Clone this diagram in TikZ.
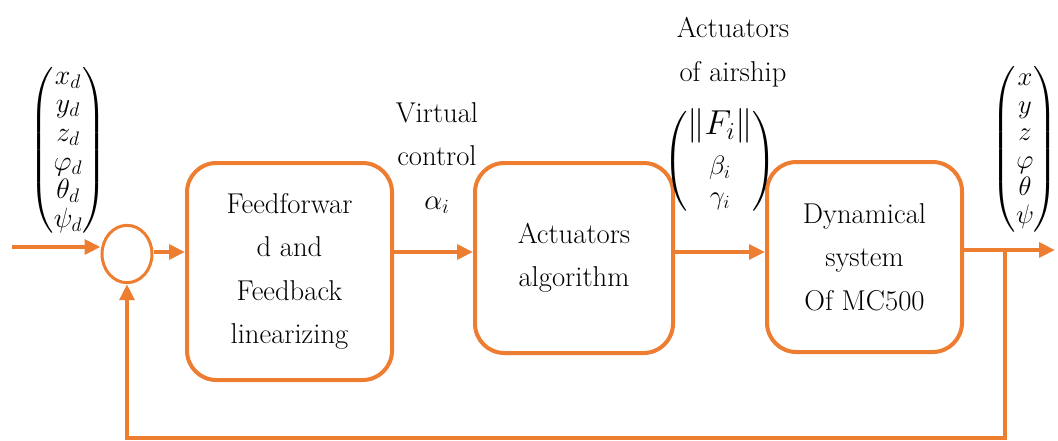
\RequirePackage{fix-cm}
\documentclass[tikz,border=0pt]{standalone}
\usepackage{amsmath}
\usetikzlibrary{arrows.meta,shapes.geometric}
\definecolor{orng}{RGB}{237,125,49}
\begin{document}
\begin{tikzpicture}[x=0.75pt,y=-0.75pt,
  blk/.style={draw=orng,line width=3pt,rounded corners=22pt,align=center,
    font=\fontsize{21.5}{32.5}\selectfont,inner sep=0pt},
  lbl/.style={align=center,font=\fontsize{21.5}{32.5}\selectfont,inner sep=0pt},
  vec/.style={font=\fontsize{21}{25}\selectfont,inner sep=0pt},
  wire/.style={draw=orng,line width=3pt},
  arr/.style={wire,-{Triangle[length=12pt,width=11pt]}},
  sumnode/.style={draw=orng,line width=2.25pt,ellipse,inner sep=0pt,
    minimum width=37.5pt,minimum height=43pt}]
\useasboundingbox (0,0) rectangle (1058,440);

% blocks
\node[blk,minimum width=153.75pt,minimum height=162.75pt] (b1) at (289.5,271.5)
  {Feedforwar\\d and\\Feedback\\linearizing};
\node[blk,minimum width=148.5pt,minimum height=142.5pt] (b2) at (574,258)
  {Actuators\\algorithm};
\node[blk,minimum width=146.25pt,minimum height=142.5pt] (b3) at (864.5,257)
  {Dynamical\\system\\Of MC500};
\node[sumnode] (sum) at (127,254) {};

% labels and vectors
\node[vec] (vin) at (68,150) {$\renewcommand\arraystretch{0.86}\begin{pmatrix}x_d\\ y_d\\ z_d\\ \varphi_d\\ \theta_d\\ \psi_d\end{pmatrix}$};
\node[vec,font=\fontsize{20}{24}\selectfont] (vout) at (1025,149) {$\renewcommand\arraystretch{0.86}\begin{pmatrix}x\\ y\\ z\\ \varphi\\ \theta\\ \psi\end{pmatrix}$};
\node[vec,font=\fontsize{20}{24}\selectfont] (vact) at (720,161) {$\renewcommand\arraystretch{0.95}\begin{pmatrix}\scalebox{1.3}{$\|F_i\|$}\\[7pt] \beta_i\\ \gamma_i\end{pmatrix}$};
\node[lbl] (virt) at (437,158) {Virtual\\control\\$\alpha_i$};
\node[lbl] (actl) at (733,52) {Actuators\\of airship};

% connectors
\coordinate (ly) at (0,252);
\coordinate (inp) at (12,247);
\coordinate (fb) at (1005,250);
\coordinate (fbb) at (1005,438);
\coordinate (out) at (1055,250);
\draw[arr] (inp) -- (inp -| sum.west);
\draw[arr] (sum.east |- ly) -- (b1.west |- ly);
\draw[arr] (b1.east |- ly) -- (b2.west |- ly);
\draw[arr] (b2.east |- ly) -- (b3.west |- ly);
\draw[arr] (b3.east |- fb) -- (out);
\draw[arr] (fb) -- (fbb) -| (sum.south);
\end{tikzpicture}
\end{document}
